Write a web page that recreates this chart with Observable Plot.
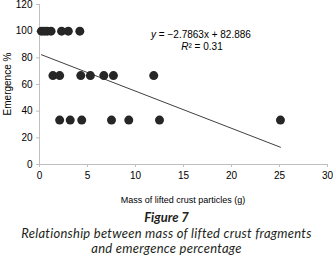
<!DOCTYPE html>
<html>
<head>
<meta charset="utf-8">
<script src="https://cdn.jsdelivr.net/npm/d3@7"></script>
<script src="https://cdn.jsdelivr.net/npm/@observablehq/plot@0.6"></script>
<style>
  html, body { margin: 0; padding: 0; background: #fff; }
  #chart { width: 333px; height: 208px; }
  .cap { width: 333px; text-align: center; font-family: Lato, "Open Sans", sans-serif; font-style: italic; color: #231f20; }
  .cap .fig { font-weight: bold; font-size: 13px; line-height: 15.7px; margin-top: 2px; }
  .cap .txt { font-size: 13px; line-height: 15.6px; letter-spacing: 0.25px; }
</style>
</head>
<body>
<div id="chart"></div>
<div class="cap">
  <div class="fig">Figure 7</div>
  <div class="txt">Relationship between mass of lifted crust fragments<br>and emergence percentage</div>
</div>
<script>
const massG = [0.2, 0.5, 0.8, 1.2, 2.3, 3.0, 4.2,
               1.4, 2.1, 4.3, 5.3, 6.7, 7.7, 11.9,
               2.1, 3.2, 4.4, 7.5, 9.3, 12.5, 25.1];
const emergencePct = [100, 100, 100, 100, 100, 100, 100,
                      66.7, 66.7, 66.7, 66.7, 66.7, 66.7, 66.7,
                      33.3, 33.3, 33.3, 33.3, 33.3, 33.3, 33.3];
const xTicks = [0, 5, 10, 15, 20, 25, 30];
const yTicks = [0, 20, 40, 60, 80, 100, 120];
const slope = -2.7863, intercept = 82.886;
const eqText = "y = −2.7863x + 82.886";
const r2Text = "R² = 0.31";

const pts = massG.map((m, i) => ({m, e: emergencePct[i]}));
const xMin = d3.min(massG), xMax = d3.max(massG);
const trend = [{m: xMin, e: intercept + slope * xMin}, {m: xMax, e: intercept + slope * xMax}];

const plot = Plot.plot({
  width: 333, height: 208,
  marginLeft: 39, marginRight: 6, marginTop: 4, marginBottom: 44,
  style: {fontFamily: "Liberation Sans, Arial, sans-serif", fontSize: "10px", color: "#000", background: "#fff"},
  x: {domain: [0, 30], ticks: xTicks},
  y: {domain: [0, 120], ticks: yTicks},
  marks: [
    Plot.ruleY([0], {stroke: "#bfbfbf", strokeWidth: 1}),
    Plot.ruleX([0], {stroke: "#bfbfbf", strokeWidth: 1}),
    Plot.axisX({ticks: xTicks, tickSize: 3, tickPadding: 4, stroke: "#bfbfbf", label: null, fill: "#000"}),
    Plot.axisY({ticks: yTicks, tickSize: 3, tickPadding: 4, stroke: "#bfbfbf", label: null, fill: "#000"}),
    Plot.line(trend, {x: "m", y: "e", stroke: "#404040", strokeWidth: 1}),
    Plot.dot(pts, {x: "m", y: "e", r: 4.5, fill: "#262626", stroke: "none"})
  ]
});
document.getElementById("chart").appendChild(plot);

const svg = d3.select(plot);
const ff = "Liberation Sans, Arial, sans-serif";
const eq = svg.append("text").attr("x", 201).attr("y", 38).attr("text-anchor", "middle")
  .attr("font-family", ff).attr("font-size", 10).attr("fill", "#000");
eq.append("tspan").attr("font-style", "italic").text("y");
eq.append("tspan").text(eqText.slice(1));
const r2 = svg.append("text").attr("x", 202).attr("y", 50).attr("text-anchor", "middle")
  .attr("font-family", ff).attr("font-size", 10).attr("fill", "#000");
r2.append("tspan").attr("font-style", "italic").text("R");
r2.append("tspan").text(r2Text.slice(1));
svg.append("text").attr("x", 183).attr("y", 203).attr("text-anchor", "middle")
  .attr("font-family", ff).attr("font-size", 9).attr("fill", "#000")
  .text("Mass of lifted crust particles (g)");
svg.append("text").attr("transform", "translate(11,84) rotate(-90)").attr("text-anchor", "middle")
  .attr("font-family", ff).attr("font-size", 10).attr("fill", "#000")
  .text("Emergence %");
</script>
</body>
</html>
